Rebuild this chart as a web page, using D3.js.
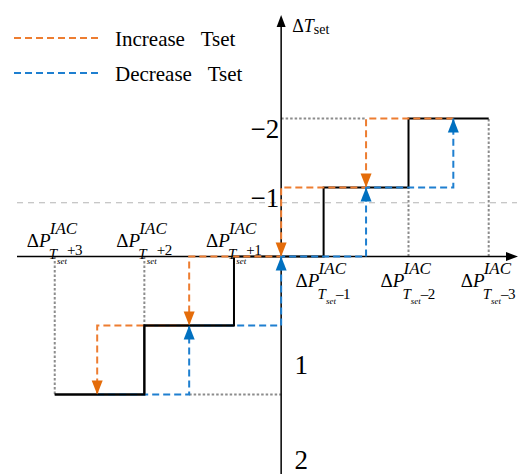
<!DOCTYPE html>
<html><head><meta charset="utf-8">
<script src="https://cdn.jsdelivr.net/npm/d3@7"></script>
<style>
body{margin:0;background:#fff}
svg{display:block}
</style>
</head><body>
<svg id="c" width="518" height="474" font-family="'Liberation Serif', 'Times New Roman', Times, 'DejaVu Serif', serif"></svg>
<script>
// ---- data ----
const blackX = [-4.8, -2.9, -2.9, -1.0, -1.0, 0.9, 0.9, 2.7, 2.7, 4.4];
const blackY = [2, 2, 1, 1, 0, 0, -1, -1, -2, -2];
const incX = [3.65, 1.8, 1.8, 0, 0, -1.95, -1.95, -3.9, -3.9];
const incY = [-2, -2, -1, -1, 0, 0, 1, 1, 2];
const decX = [-3.9, -1.95, -1.95, 0, 0, 1.8, 1.8, 3.65, 3.65];
const decY = [2, 2, 1, 1, 0, 0, -1, -1, -2];
const xTickVals = [-4.8, -2.9, -1.0, 0.9, 2.7, 4.4];
const xTickSuffix = ["+3", "+2", "+1", "\u20131", "\u20132", "\u20133"];
const guideLevels = [2, 1, 0, 0, -1, -2];
const grayHLevels = [2, -2];
const grayHFrom = [-1.95, 0];
const grayHTo = [0, 1.8];
const yTickVals = [-2, -1, 1.43, 2.8];
const yTickLabels = ["\u22122", "\u22121", "1", "2"];
const refLevel = -0.78;
const legendLabels = ["Increase\u00a0\u00a0\u00a0Tset", "Decrease\u00a0\u00a0\u00a0Tset"];

// ---- styles ----
const ORANGE = "#ED7D31", ORANGE_A = "#E46C0A";
const BLUE = "#1E7FD0", BLUE_A = "#0070C0";
const GRAY = "#8c8c8c";

const svg = d3.select("#c");
const x = d3.scaleLinear().domain([-5.6, 5.0]).range([17, 517]);
const y = d3.scaleLinear().domain([-3.5, 3.15]).range([15, 474]);
const line = d3.line().x(d => x(d[0])).y(d => y(d[1]));
const zip = (a, b) => a.map((v, i) => [v, b[i]]);

// reference dashed line
svg.append("line").attr("x1", x(-5.6)).attr("x2", x(5.0))
  .attr("y1", y(refLevel)).attr("y2", y(refLevel))
  .attr("stroke", "#b5b5b5").attr("stroke-width", 1.2).attr("stroke-dasharray", "6,5");

// gray dotted guides
svg.selectAll(".gv").data(xTickVals.map((v, i) => [v, guideLevels[i]]).filter(d => d[1] !== 0))
  .enter().append("line")
  .attr("x1", d => x(d[0])).attr("x2", d => x(d[0]))
  .attr("y1", y(0)).attr("y2", d => y(d[1]))
  .attr("stroke", GRAY).attr("stroke-width", 2).attr("stroke-dasharray", "2.5,2");
svg.selectAll(".gh").data(grayHLevels.map((l, i) => [l, grayHFrom[i], grayHTo[i]]))
  .enter().append("line")
  .attr("x1", d => x(d[1])).attr("x2", d => x(d[2]))
  .attr("y1", d => y(d[0])).attr("y2", d => y(d[0]))
  .attr("stroke", GRAY).attr("stroke-width", 2).attr("stroke-dasharray", "2.5,2");

// axes
const axisG = svg.append("g");
axisG.append("line").attr("x1", x(-5.6)).attr("x2", x(5.0) - 8)
  .attr("y1", y(0)).attr("y2", y(0)).attr("stroke", "#000").attr("stroke-width", 1.5);
axisG.append("path").attr("d", `M${x(5.0) + 1},${y(0)} L${x(5.0) - 11},${y(0) - 4.5} L${x(5.0) - 11},${y(0) + 4.5}Z`).attr("fill", "#000");
axisG.append("line").attr("x1", x(0)).attr("x2", x(0))
  .attr("y1", y(3.15)).attr("y2", y(-3.5) + 8).attr("stroke", "#000").attr("stroke-width", 1.5);
axisG.append("path").attr("d", `M${x(0)},${y(-3.5)} L${x(0) - 4.5},${y(-3.5) + 12} L${x(0) + 4.5},${y(-3.5) + 12}Z`).attr("fill", "#000");

// black staircase (full)
const blackPts = zip(blackX, blackY);
svg.append("path").attr("d", line(blackPts)).attr("fill", "none")
  .attr("stroke", "#000").attr("stroke-width", 2);

// colored hysteresis paths
function drawPath(xs, ys, col) {
  const pts = zip(xs, ys);
  svg.append("path").attr("d", line(pts)).attr("fill", "none")
    .attr("stroke", col).attr("stroke-width", 2).attr("stroke-dasharray", "7,4");
  return pts;
}
const incPts = drawPath(incX, incY, ORANGE);
const decPts = drawPath(decX, decY, BLUE);

// black staircase left part on top
svg.append("path").attr("d", line(blackPts.filter(d => d[0] <= -1.0 && !(d[0] === -1.0 && d[1] === 0))))
  .attr("fill", "none").attr("stroke", "#000").attr("stroke-width", 2);

// arrows at ends of vertical segments
function arrows(pts, col) {
  const heads = [];
  for (let i = 1; i < pts.length; i++) {
    if (pts[i][0] === pts[i - 1][0] && pts[i][1] !== pts[i - 1][1]) heads.push([pts[i], Math.sign(pts[i][1] - pts[i - 1][1])]);
  }
  svg.selectAll(null).data(heads).enter().append("path")
    .attr("d", d => {
      const px = x(d[0][0]), py = y(d[0][1]), s = d[1];
      return `M${px},${py} L${px - 5.5},${py - s * 14} L${px + 5.5},${py - s * 14}Z`;
    })
    .attr("fill", col);
}
arrows(incPts, ORANGE_A);
arrows(decPts, BLUE_A);

// y tick labels
svg.selectAll(".yt").data(yTickVals.map((v, i) => [v, yTickLabels[i]]))
  .enter().append("text")
  .attr("x", d => d[0] < 0 ? x(0) - 2 : x(0) + 20)
  .attr("y", d => y(d[0]) + 19)
  .attr("text-anchor", d => d[0] < 0 ? "end" : "middle")
  .attr("font-size", 27).text(d => d[1]);

// y axis title
const yt = svg.append("text").attr("x", x(0) + 11).attr("y", 32).attr("font-size", 18);
yt.append("tspan").text("\u0394");
yt.append("tspan").attr("font-style", "italic").text("T");
yt.append("tspan").attr("font-size", 14).attr("dy", 2).text("set");

// x tick labels
xTickVals.forEach((v, i) => {
  const x0 = x(v) - 28;
  const b = v < 0 ? y(0) - 10 : y(0) + 30;
  const g = svg.append("g");
  const t = g.append("text").attr("x", x0).attr("y", b).attr("font-size", 19);
  t.append("tspan").text("\u0394");
  t.append("tspan").attr("font-style", "italic").text("P");
  g.append("text").attr("x", x0 + 23).attr("y", b - 13).attr("font-size", 17)
    .attr("font-style", "italic").text("IAC");
  const s = g.append("text").attr("x", x0 + 22).attr("y", b + 12).attr("font-size", 15);
  s.append("tspan").attr("font-style", "italic").text("T");
  s.append("tspan").attr("font-style", "italic").attr("font-size", 9)
    .attr("dy", 5).text("set");
  s.append("tspan").attr("font-size", 15).attr("letter-spacing", -0.5)
    .attr("dy", v < 0 ? -9 : -5).text(xTickSuffix[i]);
});

// legend
const legCols = [ORANGE, BLUE];
legendLabels.forEach((lab, i) => {
  const ly = 38 + i * 35;
  svg.append("line").attr("x1", 14).attr("x2", 100).attr("y1", ly).attr("y2", ly)
    .attr("stroke", legCols[i]).attr("stroke-width", 2).attr("stroke-dasharray", "7,4");
  svg.append("text").attr("x", 115).attr("y", ly + 8).attr("font-size", 21).text(lab);
});
</script>
</body></html>
